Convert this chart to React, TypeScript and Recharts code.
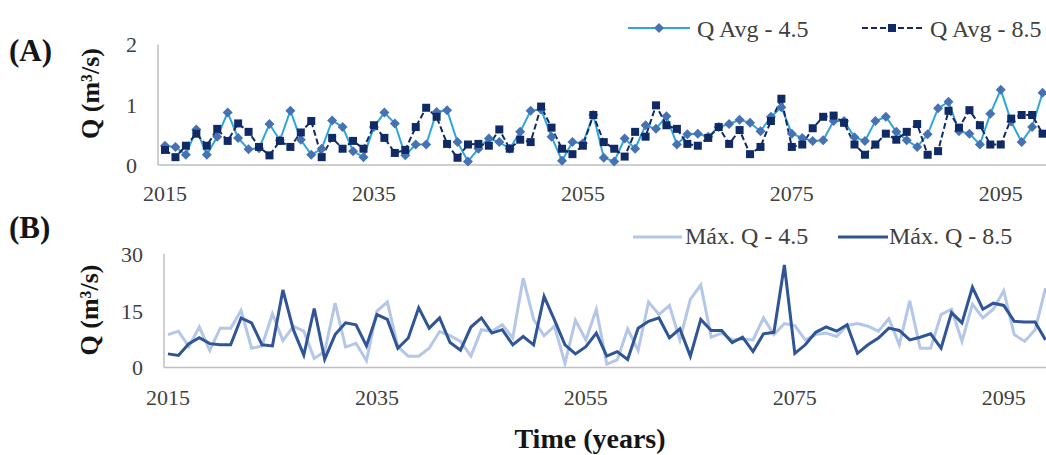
import React from 'react';
import { LineChart, Line, XAxis, YAxis } from 'recharts';

// 2015 .. 2099 (the right end of the plot is cut off, as in the source figure)
const YEARS = Array.from({ length: 85 }, (_, i) => 2015 + i);
const X_TICKS = [2015, 2035, 2055, 2075, 2095];

const AVG_TICKS = [0, 1, 2];
const MAX_TICKS = [0, 15, 30];

// (A) mean discharge, m³/s
const AVG_45 = [
  0.32, 0.30, 0.17, 0.59, 0.17, 0.47, 0.87, 0.45, 0.26, 0.28,
  0.68, 0.41, 0.90, 0.42, 0.17, 0.27, 0.74, 0.63, 0.23, 0.13,
  0.63, 0.87, 0.69, 0.16, 0.34, 0.34, 0.88, 0.91, 0.38, 0.06,
  0.27, 0.44, 0.38, 0.27, 0.55, 0.90, 0.92, 0.47, 0.07, 0.38,
  0.36, 0.83, 0.12, 0.06, 0.44, 0.27, 0.66, 0.60, 0.81, 0.34,
  0.51, 0.52, 0.47, 0.63, 0.68, 0.75, 0.70, 0.56, 0.80, 0.96,
  0.52, 0.45, 0.40, 0.41, 0.73, 0.73, 0.46, 0.40, 0.73, 0.80,
  0.55, 0.41, 0.30, 0.51, 0.94, 1.05, 0.56, 0.52, 0.34, 0.85,
  1.25, 0.72, 0.38, 0.63, 1.20,
];
const AVG_85 = [
  0.25, 0.13, 0.32, 0.52, 0.32, 0.60, 0.40, 0.69, 0.55, 0.30,
  0.16, 0.40, 0.30, 0.54, 0.73, 0.13, 0.45, 0.27, 0.40, 0.27,
  0.66, 0.45, 0.20, 0.25, 0.63, 0.95, 0.80, 0.35, 0.12, 0.34,
  0.35, 0.32, 0.59, 0.27, 0.42, 0.38, 0.97, 0.62, 0.27, 0.18,
  0.32, 0.83, 0.38, 0.27, 0.14, 0.55, 0.47, 0.99, 0.66, 0.60,
  0.35, 0.32, 0.45, 0.63, 0.35, 0.58, 0.18, 0.30, 0.73, 1.10,
  0.30, 0.34, 0.61, 0.80, 0.82, 0.70, 0.34, 0.17, 0.34, 0.52,
  0.42, 0.55, 0.68, 0.17, 0.23, 0.90, 0.62, 0.91, 0.66, 0.34,
  0.34, 0.77, 0.83, 0.83, 0.52,
];

// (B) maximum discharge, m³/s
const MAX_45 = [
  8.7, 9.6, 5.5, 10.7, 4.5, 10.4, 10.4, 15.1, 5.1, 5.7,
  14.2, 7.1, 10.9, 9.6, 2.4, 4.2, 17.0, 5.4, 6.4, 1.8,
  14.9, 17.3, 5.5, 3.0, 3.0, 5.1, 9.5, 8.4, 6.9, 3.0,
  10.0, 9.6, 11.3, 7.8, 23.6, 12.7, 8.4, 10.9, 1.1, 12.5,
  7.3, 15.4, 0.9, 2.0, 10.2, 4.5, 17.3, 14.0, 16.4, 7.3,
  18.0, 21.8, 8.0, 9.1, 7.3, 7.5, 7.3, 13.1, 8.7, 11.6,
  11.1, 7.3, 8.7, 9.1, 8.2, 11.1, 11.6, 10.9, 9.6, 12.9,
  6.0, 17.6, 5.1, 5.1, 14.0, 15.4, 6.9, 16.7, 13.1, 15.4,
  20.3, 8.7, 6.9, 10.0, 21.0,
];
const MAX_85 = [
  3.6, 3.2, 6.3, 7.9, 6.3, 6.0, 6.0, 13.1, 11.8, 6.0,
  5.7, 20.5, 10.0, 3.3, 15.6, 2.2, 8.7, 11.8, 11.3, 5.7,
  14.0, 12.7, 5.1, 7.8, 15.8, 10.4, 13.1, 6.6, 4.6, 10.7,
  13.1, 9.1, 10.0, 6.0, 8.2, 6.0, 18.8, 12.5, 6.0, 3.6,
  5.5, 9.1, 3.0, 4.2, 2.1, 10.4, 12.2, 13.1, 7.8, 10.2,
  3.0, 12.7, 9.8, 9.8, 6.6, 8.0, 4.2, 8.9, 9.3, 27.1,
  3.75, 6.0, 9.3, 10.7, 9.6, 11.3, 3.75, 6.0, 7.8, 10.4,
  9.8, 7.3, 8.0, 8.9, 5.1, 14.5, 11.8, 21.2, 15.4, 17.0,
  16.4, 12.2, 12.0, 12.0, 7.3,
];

const avgData = YEARS.map((year, i) => ({ year, q45: AVG_45[i], q85: AVG_85[i] }));
const maxData = YEARS.map((year, i) => ({ year, q45: MAX_45[i], q85: MAX_85[i] }));

const SERIF = '"Liberation Serif", "Times New Roman", serif';
const AXIS_GRAY = '#BFBFBF';
const TEXT = '#404040';
const INK = '#151515';
const CYAN = '#2EA6DD';
const STEEL = '#4672B4';
const NAVY = '#0F2A64';
const PALE = '#B4C7E7';
const ROYAL = '#2F5597';

const TICK = { fontSize: 22, fill: TEXT, fontFamily: SERIF };

function Diamond(props: any) {
  const { cx, cy, index } = props;
  if (cx == null || cy == null) return <g key={`dm-${index}`} />;
  return (
    <path
      key={`dm-${index}`}
      d={`M${cx},${cy - 5}L${cx + 5},${cy}L${cx},${cy + 5}L${cx - 5},${cy}Z`}
      fill={STEEL}
    />
  );
}

function Square(props: any) {
  const { cx, cy, index } = props;
  if (cx == null || cy == null) return <g key={`sq-${index}`} />;
  return <rect key={`sq-${index}`} x={cx - 4} y={cy - 4} width={8} height={8} fill={NAVY} />;
}

function Overlay() {
  return (
    <svg
      width={1046}
      height={455}
      style={{ position: 'absolute', left: 0, top: 0, pointerEvents: 'none' }}
      fontFamily={SERIF}
    >
      {/* panel letters */}
      <text x={9} y={61} fontSize={31} fontWeight="bold" fill={INK}>(A)</text>
      <text x={9} y={238} fontSize={31} fontWeight="bold" fill={INK}>(B)</text>

      {/* y titles */}
      <text transform="translate(90,93.5) rotate(-90)" textAnchor="middle" dominantBaseline="central"
            fontSize={26} fontWeight="bold" fill={INK}>Q (m³/s)</text>
      <text transform="translate(89,310) rotate(-90)" textAnchor="middle" dominantBaseline="central"
            fontSize={26} fontWeight="bold" fill={INK}>Q (m³/s)</text>

      {/* legend A */}
      <line x1={628} y1={28} x2={690} y2={28} stroke={CYAN} strokeWidth={2} />
      <path d="M659,23L664,28L659,33L654,28Z" fill={STEEL} />
      <text x={697} y={37} fontSize={24} fill={TEXT}>Q Avg - 4.5</text>
      <line x1={862} y1={28} x2={922} y2={28} stroke={NAVY} strokeWidth={2} strokeDasharray="6 3" />
      <rect x={888} y={24} width={8} height={8} fill={NAVY} />
      <text x={930} y={37} fontSize={24} fill={TEXT}>Q Avg - 8.5</text>

      {/* legend B */}
      <line x1={633} y1={237} x2={682} y2={237} stroke={PALE} strokeWidth={3} />
      <text x={685} y={244} fontSize={24} fill={TEXT}>Máx. Q - 4.5</text>
      <line x1={838} y1={237} x2={888} y2={237} stroke={ROYAL} strokeWidth={3} />
      <text x={889} y={244} fontSize={24} fill={TEXT}>Máx. Q - 8.5</text>

      {/* shared x title */}
      <text x={590} y={448} textAnchor="middle" fontSize={28} fontWeight="bold" fill={INK}>Time (years)</text>
    </svg>
  );
}

export default function App() {
  return (
    <div style={{ position: 'absolute', left: 0, top: 0, width: 1046, height: 455, overflow: 'hidden', background: '#fff' }}>
      <div style={{ position: 'absolute', left: 0, top: 0 }}>
        <LineChart width={1053} height={210} data={avgData} margin={{ top: 44.5, right: 0, bottom: 0, left: 0 }}>
          <XAxis
            dataKey="year" type="number" domain={[2014.33, 2100]} ticks={X_TICKS} allowDataOverflow
            height={45} axisLine={{ stroke: AXIS_GRAY, strokeWidth: 1.5 }} tickLine={false}
            tickSize={0} tickMargin={20} tick={TICK} interval={0}
          />
          <YAxis
            domain={[0, 2]} ticks={AVG_TICKS} width={158} axisLine={{ stroke: AXIS_GRAY, strokeWidth: 1.5 }}
            tickLine={false} tickSize={0} tickMargin={21} tick={TICK} interval={0}
          />
          <Line dataKey="q45" name="Q Avg - 4.5" stroke={CYAN} strokeWidth={2} dot={Diamond} activeDot={false} isAnimationActive={false} />
          <Line dataKey="q85" name="Q Avg - 8.5" stroke={NAVY} strokeWidth={2} strokeDasharray="6 3" dot={Square} activeDot={false} isAnimationActive={false} />
        </LineChart>
      </div>
      <div style={{ position: 'absolute', left: 0, top: 210 }}>
        <LineChart width={1056} height={245} data={maxData} margin={{ top: 44, right: 0, bottom: 0, left: 0 }}>
          <XAxis
            dataKey="year" type="number" domain={[2014.62, 2100]} ticks={X_TICKS} allowDataOverflow
            height={87.5} axisLine={{ stroke: AXIS_GRAY, strokeWidth: 1.5 }} tickLine={false}
            tickSize={0} tickMargin={21.5} tick={TICK} interval={0}
          />
          <YAxis
            domain={[0, 30]} ticks={MAX_TICKS} width={164} axisLine={{ stroke: AXIS_GRAY, strokeWidth: 1.5 }}
            tickLine={false} tickSize={0} tickMargin={21} tick={TICK} interval={0}
          />
          <Line dataKey="q45" name="Máx. Q - 4.5" stroke={PALE} strokeWidth={3} dot={false} activeDot={false} isAnimationActive={false} />
          <Line dataKey="q85" name="Máx. Q - 8.5" stroke={ROYAL} strokeWidth={3} dot={false} activeDot={false} isAnimationActive={false} />
        </LineChart>
      </div>
      <Overlay />
    </div>
  );
}
